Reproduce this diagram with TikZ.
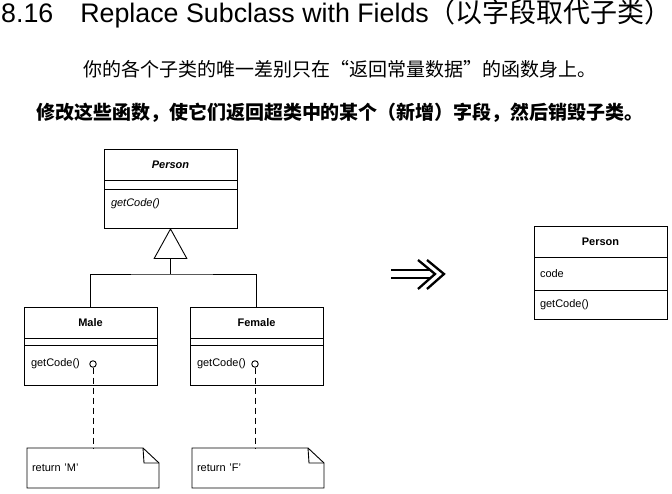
\documentclass[tikz,border=0pt]{standalone}
\usepackage{fontspec}
\setmainfont{Liberation Sans}
\newfontfamily\cjk{Noto Sans CJK SC}
\usetikzlibrary{positioning,arrows.meta}

\tikzset{
  compart/.style={draw, line width=0.9pt, minimum width=133pt, inner sep=0pt, outer sep=0pt,
    font=\fontsize{11}{13}\selectfont},
  namebox/.style={compart, minimum height=31pt},
  opsbox/.style={compart, align=left, text width=119pt, inner xsep=7pt},
  notebox/.style={minimum width=132pt, minimum height=40pt, inner sep=0pt, outer sep=0pt,
    text width=122pt, align=left, font=\fontsize{11}{13}\selectfont},
  lollipop/.style={circle, draw, line width=0.9pt, minimum size=6.5pt, inner sep=0pt},
}
\newcommand\dogear[1]{%
  \draw[line width=0.9pt] (#1.north west) -- ([xshift=-16pt]#1.north east)
    -- ([yshift=-15pt]#1.north east) -- (#1.south east) -- (#1.south west) -- cycle;
  \draw[line width=0.9pt] ([xshift=-16pt]#1.north east) -- ([xshift=-15pt,yshift=-15pt]#1.north east)
    -- ([yshift=-15pt]#1.north east);}

\begin{document}
\begin{tikzpicture}[x=1pt,y=-1pt]
  \useasboundingbox (0,0) rectangle (672,494);

  % heading
  \node[anchor=base west, inner sep=0pt, font=\fontsize{26.8}{30}\selectfont] (title) at (1,23)
    {8.16\hspace{27pt}Replace Subclass with Fields{\cjk\fontsize{27}{30}\selectfont （以字段取代子类）}};
  \node[font=\cjk\fontsize{19}{22}\selectfont] (summary) at (340,69)
    {你的各个子类的唯一差别只在“返回常量数据”的函数身上。};
  \node[font=\cjk\bfseries\fontsize{19}{22}\selectfont] (motive) at (340,113)
    {修改这些函数，使它们返回超类中的某个（新增）字段，然后销毁子类。};

  % before: superclass
  \node[namebox] (person) at (170.5,164.5) {\textbf{\textit{Person}}};
  \node[compart, minimum height=9pt, below=0pt of person] (personattr) {};
  \node[opsbox, text height=18pt, text depth=21pt, below=0pt of personattr] (personops) {\textit{getCode()}};

  % before: subclasses
  \node[namebox] (male) at (90.5,322.5) {\textbf{Male}};
  \node[compart, minimum height=7pt, below=0pt of male] (maleattr) {};
  \node[opsbox, text height=21pt, text depth=19pt, below=0pt of maleattr] (maleops) {getCode()};

  \node[namebox, right=33pt of male] (female) {\textbf{Female}};
  \node[compart, minimum height=7pt, below=0pt of female] (femaleattr) {};
  \node[opsbox, text height=21pt, text depth=19pt, below=0pt of femaleattr] (femaleops) {getCode()};

  % generalization
  \coordinate (split) at (170.5,274);
  \draw[line width=0.9pt, -{Triangle[open, length=31pt, width=34pt]}] (split) -- (personops.south);
  \draw[line width=0.9pt] (male.north) |- (split) -| (female.north);

  % notes
  \node[lollipop] (mcirc) at (93,364) {};
  \node[lollipop] (fcirc) at (255,364) {};
  \node[notebox, below=63pt of maleops.south west, anchor=north west, xshift=3pt] (mnote) {return 'M'};
  \node[notebox, below=63pt of femaleops.south west, anchor=north west, xshift=2pt] (fnote) {return 'F'};
  \dogear{mnote}
  \dogear{fnote}
  \draw[line width=0.9pt, dash pattern=on 6pt off 4pt] (mcirc) -- (mcirc |- mnote.north);
  \draw[line width=0.9pt, dash pattern=on 6pt off 4pt] (fcirc) -- (fcirc |- fnote.north);

  % refactoring arrow
  \draw[line width=2.3pt] (391,270) -- (430,270) (391,278) -- (430,278);
  \draw[line width=2.3pt] (418,260) -- (435,274) -- (418,289);
  \draw[line width=2.3pt] (427,260) -- (444,274) -- (427,289);

  % after: single class
  \node[namebox] (newperson) at (600.5,241.5) {\textbf{Person}};
  \node[opsbox, minimum height=33pt, inner xsep=6pt, text width=121pt, below=0pt of newperson] (newattr) {code};
  \node[opsbox, minimum height=29pt, inner xsep=6pt, text width=121pt, below=0pt of newattr] (newops) {getCode()};
\end{tikzpicture}
\end{document}
